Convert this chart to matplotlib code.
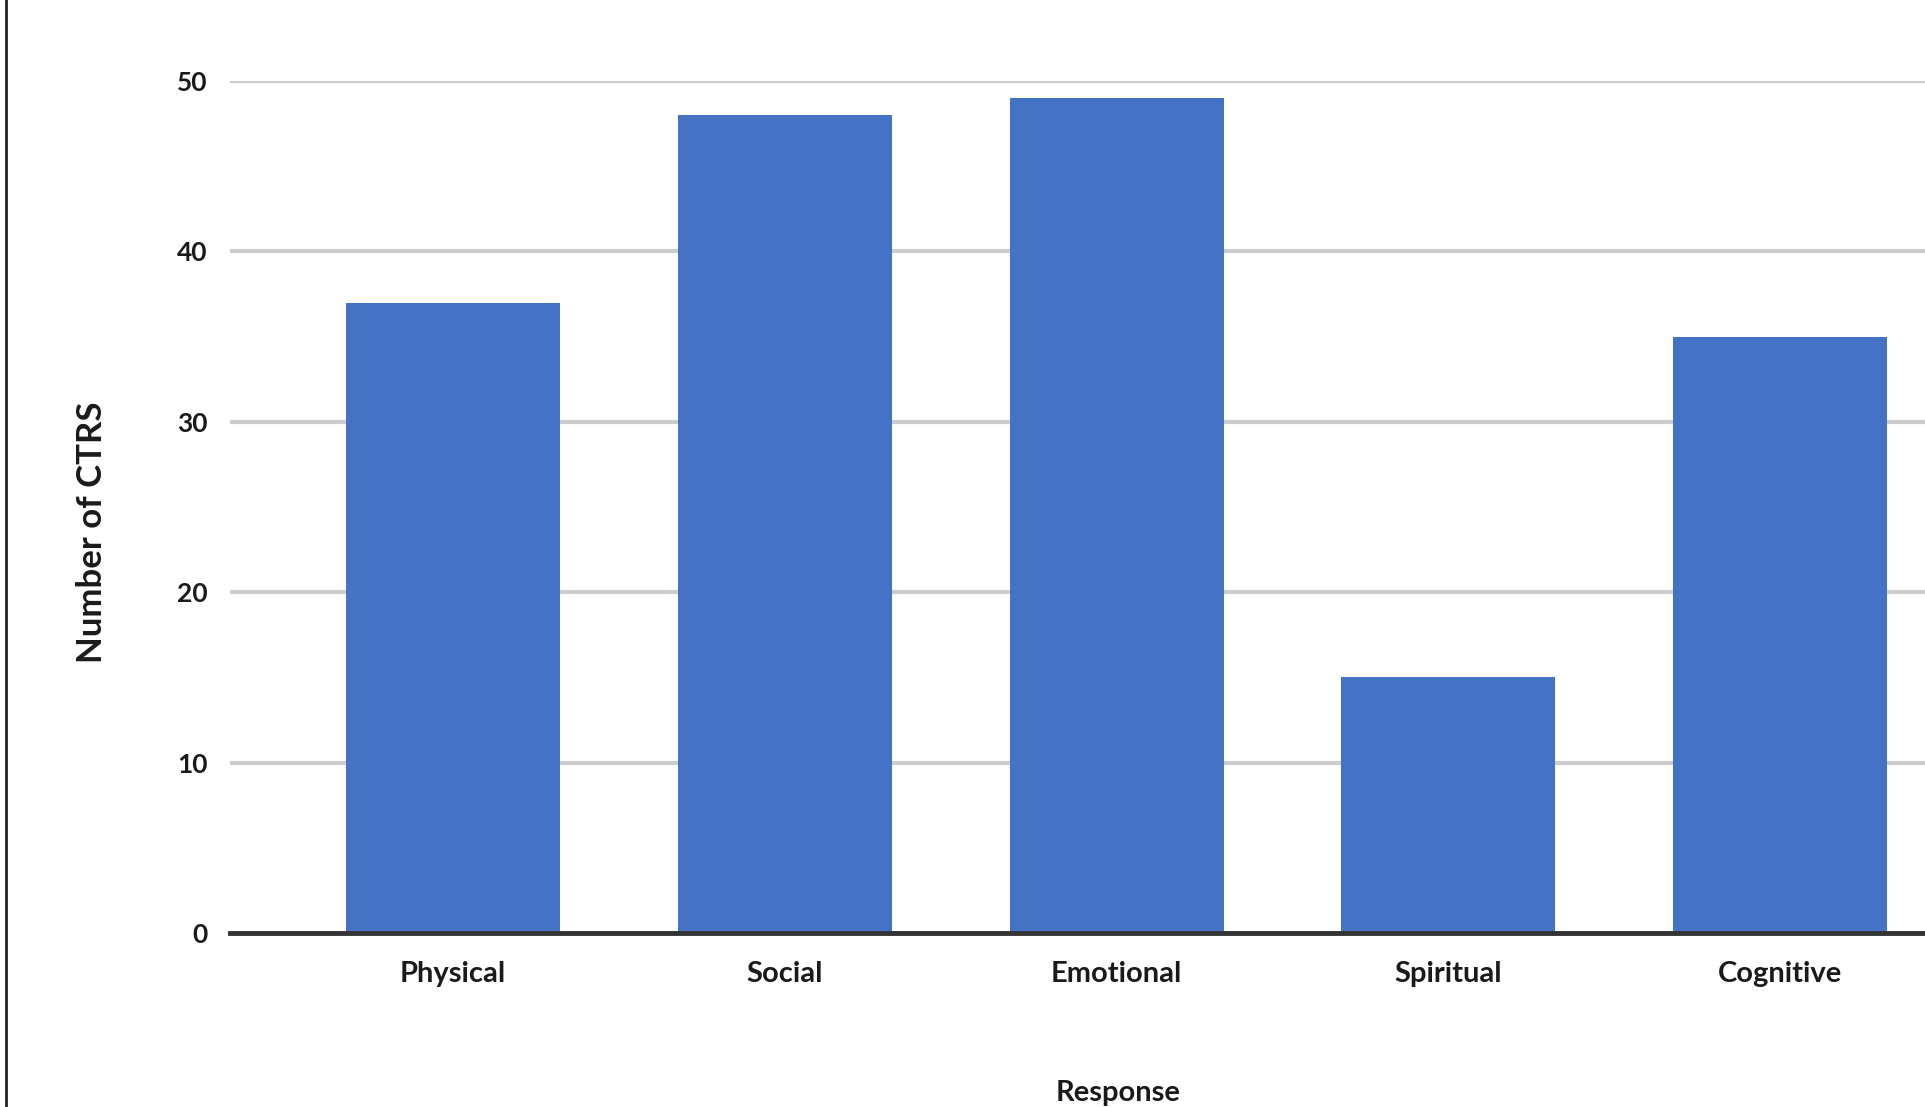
import matplotlib
matplotlib.use("Agg")
import matplotlib.pyplot as plt
from matplotlib.lines import Line2D

categories = ["Physical", "Social", "Emotional", "Spiritual", "Cognitive"]
counts = [37, 48, 49, 15, 35]
yticks = [0, 10, 20, 30, 40, 50]

W, H = 1925, 1107
fig = plt.figure(figsize=(W / 100, H / 100), dpi=100)
fig.patch.set_facecolor("white")

left, right = 230, 1946
bottom_px, top_px = 933, 81
ax = fig.add_axes([left / W, 1 - bottom_px / H, (right - left) / W, (bottom_px - top_px) / H])

font = "Lato"
x = list(range(len(categories)))
ax.bar(x, counts, width=0.645, color="#4472C4", zorder=3)
ax.set_xlim(-0.672, 4.5)
ax.set_ylim(0, 50)
ax.set_yticks(yticks)
ax.set_yticklabels([str(t) for t in yticks], fontsize=19, fontfamily=font, fontweight="bold", color="#1a1a1a")
ax.set_xticks(x)
ax.set_xticklabels(categories, fontsize=21, fontfamily=font, fontweight="bold", color="#1a1a1a")
ax.tick_params(axis="y", length=0, pad=16)
ax.tick_params(axis="x", length=0, pad=20)
ax.grid(axis="y", color="#cccccc", linewidth=3, zorder=0)
for s in ["top", "right", "left"]:
    ax.spines[s].set_visible(False)
ax.spines["bottom"].set_color("#333333")
ax.spines["bottom"].set_linewidth(3.5)
ax.spines["bottom"].set_zorder(4)

fig.text(92 / W, 1 - 532 / H, "Number of CTRS", rotation=90, ha="center", va="center",
         fontsize=25, fontfamily=font, fontweight="bold", color="#1a1a1a")
fig.text(1118 / W, 1 - 1093 / H, "Response", ha="center", va="center",
         fontsize=21, fontfamily=font, fontweight="bold", color="#1a1a1a")

fig.add_artist(Line2D([6 / W, 6 / W], [0, 1], transform=fig.transFigure, color="#222222", linewidth=2))

fig.savefig("out.png", dpi=100, facecolor="white")
